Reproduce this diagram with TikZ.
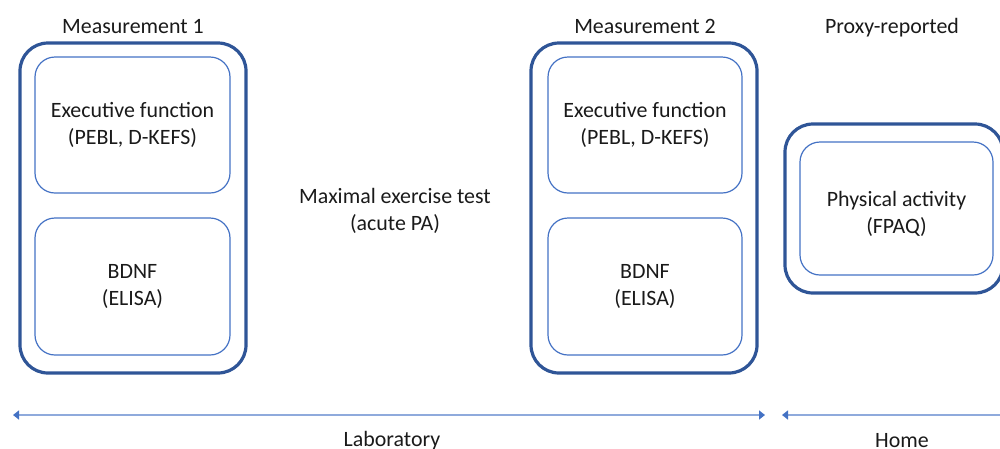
\documentclass[tikz,border=0pt]{standalone}
\usepackage{fontspec}
\setmainfont{Carlito}
\usetikzlibrary{arrows.meta}
\definecolor{outerblue}{HTML}{2F5597}
\definecolor{innerblue}{HTML}{4472C4}
\definecolor{linelight}{HTML}{8FAADC}
\definecolor{textgray}{HTML}{1A1A1A}
\tikzset{mytip/.tip={Triangle[length=6pt, width=9pt, color=innerblue]}}
\begin{document}
\begin{tikzpicture}[x=1pt,y=-1pt,
  font=\fontsize{21.9}{27}\selectfont,
  every node/.style={text=textgray, align=center, inner sep=0pt},
  outerbox/.style={draw=outerblue, line width=3.2pt, rounded corners=28pt},
  innerbox/.style={draw=innerblue, line width=1.2pt, rounded corners=20pt},
  timeline/.style={draw=linelight, line width=1.5pt}]
\useasboundingbox (0,0) rectangle (1000,448);
\clip (0,0) rectangle (1000,448);
% measurement 1
\node[outerbox, minimum width=226pt, minimum height=330pt] (o1) at (133,208) {};
\node[innerbox, minimum width=195pt, minimum height=136pt] (ef1) at (132.5,125) {Executive function\\(PEBL, D-KEFS)};
\node[innerbox, minimum width=195pt, minimum height=137pt] (bd1) at (132.5,286.5) {BDNF\\(ELISA)};
\node[anchor=base] (t1) at (133,33) {Measurement 1};
% measurement 2
\node[outerbox, minimum width=226pt, minimum height=330pt] (o2) at (644,208) {};
\node[innerbox, minimum width=194pt, minimum height=136pt] (ef2) at (645,125) {Executive function\\(PEBL, D-KEFS)};
\node[innerbox, minimum width=194pt, minimum height=137pt] (bd2) at (645,286.5) {BDNF\\(ELISA)};
\node[anchor=base] (t2) at (645,33) {Measurement 2};
% exercise test
\node (ex) at (395,211) {Maximal exercise test\\(acute PA)};
% proxy reported
\node[outerbox, minimum width=218pt, minimum height=169pt] (o3) at (894,208.5) {};
\node[innerbox, minimum width=193pt, minimum height=133pt] (pa) at (896.5,208.5) {};
\node (patxt) at (896.5,214) {Physical activity\\(FPAQ)};
\node[anchor=base] (t3) at (892,33) {Proxy-reported};
% timelines
\coordinate (la) at (13,415);
\coordinate (lb) at (765,415);
\coordinate (ha) at (782,415);
\coordinate (hb) at (1010,415);
\draw[timeline, mytip-mytip] (la) -- (lb);
\draw[timeline, mytip-] (ha) -- (hb);
\node[anchor=base] (lab) at (392,446) {Laboratory};
\node[anchor=base] (home) at (902,447) {Home};
\end{tikzpicture}
\end{document}
